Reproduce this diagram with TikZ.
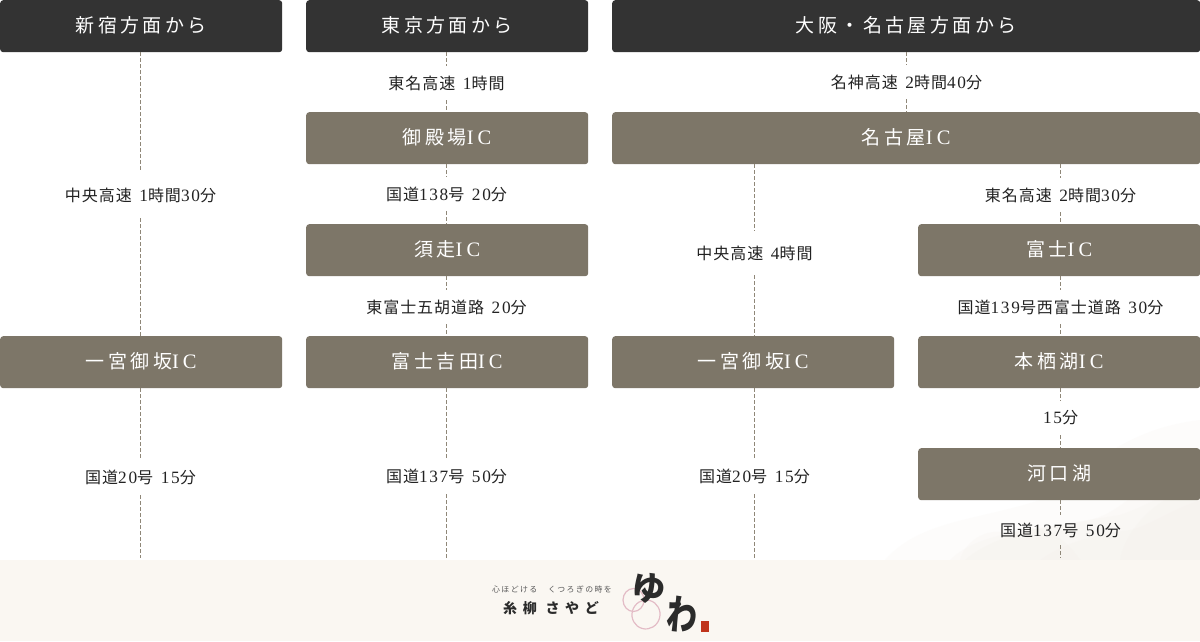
\documentclass[tikz,border=0pt]{standalone}
\usepackage{fontspec}
\usetikzlibrary{shapes.geometric}
\setmainfont{Noto Sans CJK JP}
\newfontfamily\labfont[LetterSpace=6]{Noto Sans CJK JP}
\newfontfamily\lat[LetterSpace=10,Scale=1.08]{Liberation Serif}
\newfontfamily\headfont[LetterSpace=18]{Noto Sans CJK JP}
\newfontfamily\headlat[LetterSpace=20,Scale=1.08]{Liberation Serif}
\newfontfamily\tinyfont[LetterSpace=18]{Noto Sans CJK JP}
\newfontfamily\brandfont[LetterSpace=40]{Noto Sans CJK JP}
\newfontfamily\logofont{Noto Sans CJK JP}
\newcommand{\gp}{\hspace{3pt}}
\definecolor{headc}{HTML}{333333}
\definecolor{boxc}{HTML}{7D7668}
\definecolor{linec}{HTML}{8F8778}
\definecolor{footc}{HTML}{FAF7F2}
\definecolor{labc}{HTML}{222222}
\definecolor{washc}{HTML}{F1ECE5}
\definecolor{pinkc}{HTML}{E3BCC6}
\definecolor{inkc}{HTML}{2B2B2B}
\definecolor{stampc}{HTML}{C0341C}
\tikzset{
  x=1pt,y=-1pt,
  hd/.style={anchor=north west,fill=headc,text=white,rounded corners=3pt,minimum height=52pt,inner sep=0pt,text height=16pt,text depth=3.6pt,font=\headfont\fontsize{19}{22}\selectfont},
  bx/.style={hd,fill=boxc},
  lab/.style={inner sep=0pt,text=labc,minimum height=34pt,font=\labfont\fontsize{16}{18}\selectfont},
  lk/.style={draw=linec,line width=1pt,dash pattern=on 4pt off 2pt},
  wash/.style={fill=washc,opacity=.14},
}
\newcommand{\conn}[3]{%
  \draw[lk] (#2.north |- #1.south) -- (#2.north);
  \draw[lk] (#2.south) -- (#2.south |- #3);
}
\begin{document}
\begin{tikzpicture}
\useasboundingbox (0,0) rectangle (1200,642);
\fill[white] (0,0) rectangle (1200,642);
% watercolour wash
\begin{scope}
\clip (870,400) rectangle (1200,560);
\fill[wash] (1200,420) .. controls (1120,430) and (1090,470) .. (1040,500) .. controls (980,520) and (920,520) .. (885,560) -- (1200,560) -- cycle;
\fill[wash] (1200,450) .. controls (1150,470) and (1130,510) .. (1090,520) .. controls (1040,530) and (980,530) .. (950,560) -- (1200,560) -- cycle;
\fill[wash] (1200,480) .. controls (1170,490) and (1150,505) .. (1120,515) .. controls (1060,525) and (1000,530) .. (965,560) -- (1200,560) -- cycle;
\fill[wash] (1200,500) .. controls (1170,510) and (1150,525) .. (1130,530) .. controls (1090,535) and (1060,545) .. (1040,560) -- (1200,560) -- cycle;
\fill[wash] (960,560) .. controls (965,540) and (990,525) .. (1010,535) .. controls (1030,520) and (1060,530) .. (1080,560) -- cycle;
\fill[wash] (1120,560) .. controls (1125,530) and (1160,490) .. (1200,490) -- (1200,560) -- cycle;
\end{scope}
\node[anchor=north west,fill=footc,minimum width=1200pt,minimum height=81pt,inner sep=0pt] (footer) at (0,560) {};
% headers
\node[hd,minimum width=282pt] (h1) at (0,0) {新宿方面から};
\node[hd,minimum width=282pt] (h2) at (306,0) {東京方面から};
\node[hd,minimum width=588pt] (h3) at (612,0) {大阪・名古屋方面から};
% boxes
\node[bx,minimum width=282pt] (b1a) at (0,336) {一宮御坂{\headlat IC}};
\node[bx,minimum width=282pt] (b2a) at (306,112) {御殿場{\headlat IC}};
\node[bx,minimum width=282pt] (b2b) at (306,224) {須走{\headlat IC}};
\node[bx,minimum width=282pt] (b2c) at (306,336) {富士吉田{\headlat IC}};
\node[bx,minimum width=588pt] (b3a) at (612,112) {名古屋{\headlat IC}};
\node[bx,minimum width=282pt] (b3b) at (612,336) {一宮御坂{\headlat IC}};
\node[bx,minimum width=282pt] (b3c) at (918,224) {富士{\headlat IC}};
\node[bx,minimum width=282pt] (b3d) at (918,336) {本栖湖{\headlat IC}};
\node[bx,minimum width=282pt] (b3e) at (918,448) {河口湖};
% free ends
\coordinate (e1) at (140.5,558);
\coordinate (e2) at (446.5,558);
\coordinate (e3) at (754.5,558);
\coordinate (e4) at (1060.5,558);
% labels
\node[lab,minimum height=46pt] (l1a) at (140.5,195) {中央高速 \gp{\lat 1}時間{\lat 30}分};
\node[lab,minimum height=36pt] (l1b) at (140.5,477) {国道{\lat 20}号 \gp{\lat 15}分};
\node[lab] (l2a) at (446.5,83) {東名高速 \gp{\lat 1}時間};
\node[lab] (l2b) at (446.5,194) {国道{\lat 138}号 \gp{\lat 20}分};
\node[lab] (l2c) at (446.5,307) {東富士五胡道路 \gp{\lat 20}分};
\node[lab,minimum height=36pt] (l2d) at (446.5,476) {国道{\lat 137}号 \gp{\lat 50}分};
\node[lab] (l3a) at (906.5,82) {名神高速 \gp{\lat 2}時間{\lat 40}分};
\node[lab,minimum height=44pt] (l3b) at (754.5,253) {中央高速 \gp{\lat 4}時間};
\node[lab,minimum height=36pt] (l3c) at (754.5,476) {国道{\lat 20}号 \gp{\lat 15}分};
\node[lab] (l3d) at (1060.5,195) {東名高速 \gp{\lat 2}時間{\lat 30}分};
\node[lab] (l3e) at (1060.5,307) {国道{\lat 139}号西富士道路 \gp{\lat 30}分};
\node[lab] (l3f) at (1060.5,418) {{\lat 15}分};
\node[lab,minimum height=30pt] (l3g) at (1060.5,530) {国道{\lat 137}号 \gp{\lat 50}分};
% connectors
\conn{h1}{l1a}{b1a.north}
\conn{b1a}{l1b}{e1}
\conn{h2}{l2a}{b2a.north}
\conn{b2a}{l2b}{b2b.north}
\conn{b2b}{l2c}{b2c.north}
\conn{b2c}{l2d}{e2}
\conn{h3}{l3a}{b3a.north}
\conn{b3a}{l3b}{b3b.north}
\conn{b3b}{l3c}{e3}
\conn{b3a}{l3d}{b3c.north}
\conn{b3c}{l3e}{b3d.north}
\conn{b3d}{l3f}{b3e.north}
\conn{b3e}{l3g}{e4}
% logo
\node[inner sep=0pt,text=black!65,font=\tinyfont\fontsize{7.9}{9}\selectfont] (tag) at (552,589.5) {心ほどける　くつろぎの時を};
\node[inner sep=0pt,text=inkc,font=\brandfont\bfseries\fontsize{14}{16}\selectfont] (brand) at (551,608) {糸柳 さやど};
\node[draw=pinkc,line width=1.2pt,ellipse,minimum width=21pt,minimum height=23pt,inner sep=0pt] (ring1) at (633.5,600) {};
\node[draw=pinkc,line width=1.2pt,ellipse,minimum width=28pt,minimum height=29pt,inner sep=0pt,rotate=-15] (ring2) at (646,614.5) {};
\node[inner sep=0pt,text=inkc,rotate=-8,font=\logofont\bfseries\fontsize{34}{38}\selectfont] (yu) at (649,589) {ゆ};
\node[inner sep=0pt,text=inkc,rotate=-6,yscale=1.2,xscale=.9,font=\logofont\bfseries\fontsize{34}{38}\selectfont] (wa) at (682,615) {わ};
\node[fill=stampc,minimum width=8pt,minimum height=11pt,inner sep=0pt] (stamp) at (705,626.5) {};
\end{tikzpicture}
\end{document}
